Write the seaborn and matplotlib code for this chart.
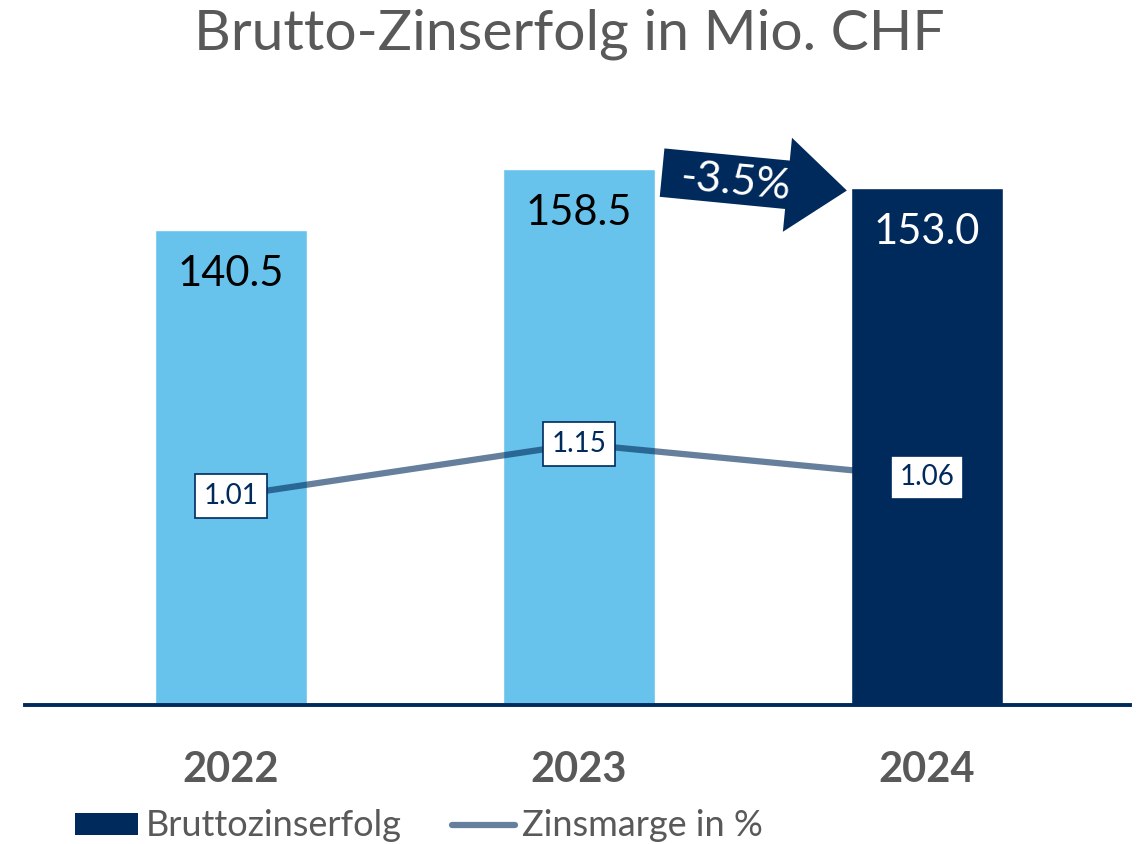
import numpy as np
import matplotlib
matplotlib.use("Agg")
import matplotlib.pyplot as plt
from matplotlib.patches import Patch
from matplotlib.lines import Line2D
import seaborn as sns

# data
years = ["2022", "2023", "2024"]
zinserfolg = [140.5, 158.5, 153.0]
zinsmarge = [1.01, 1.15, 1.06]

navy = "#002A5C"
light = "#67C3EC"
grey = "#595959"

sns.set_style("white")
plt.rcParams["font.family"] = ["Lato", "DejaVu Sans"]

fig = plt.figure(figsize=(11.38, 8.44), dpi=100)
ax = fig.add_axes([25/1138, 139/844, 1105/1138, 575/844])

bw = 0.437
sns.barplot(x=years, y=zinserfolg, hue=years, palette=[light, light, navy],
            width=bw, legend=False, saturation=1, ax=ax)
ax.set_xlim(-0.592, 2.583)
ax.set_ylim(0, 170)
ax.set_xlabel("")
ax.set_ylabel("")
ax.set_yticks([])
for s in ["top", "left", "right"]:
    ax.spines[s].set_visible(False)
ax.spines["bottom"].set_color(navy)
ax.spines["bottom"].set_linewidth(2.8)
ax.tick_params(axis="x", length=0, pad=33, labelsize=30, labelcolor=grey)
for lab in ax.get_xticklabels():
    lab.set_fontweight("bold")

# values inside the bars
txt_cols = ["black", "black", "white"]
for i, v in enumerate(zinserfolg):
    ax.annotate(f"{v:.1f}", xy=(i, v), xytext=(0, -32), textcoords="offset points",
                ha="center", va="center", fontsize=30, color=txt_cols[i])

# margin line on secondary axis
ax2 = ax.twinx()
sns.lineplot(x=np.arange(len(years)), y=zinsmarge, color=navy, alpha=0.6,
             linewidth=4.5, ax=ax2, legend=False)
ax2.set_ylim(0.447, 1.996)
ax2.set_yticks([])
ax2.set_ylabel("")
for s in ax2.spines.values():
    s.set_visible(False)
for i, m in enumerate(zinsmarge):
    ax2.annotate(f"{m:.2f}", xy=(i, m), ha="center", va="center", fontsize=20,
                 color=navy, zorder=5,
                 bbox=dict(boxstyle="square,pad=0.32", fc="white", ec=navy, lw=1.2))

# change arrow 2023 -> 2024
chg = (zinserfolg[2] - zinserfolg[1]) / zinserfolg[1] * 100
tail = (1 + bw / 2 + 0.02, zinserfolg[1] - 1.1)
tip = (2 - bw / 2 - 0.012, zinserfolg[2] - 0.9)
ax.annotate("", xy=tip, xytext=tail, zorder=6,
            arrowprops=dict(arrowstyle="simple,head_length=0.43,head_width=0.68,tail_width=0.35",
                            mutation_scale=100, fc=navy, ec="none", shrinkA=0, shrinkB=0))
ax.text(1.45, 154.6, f"{chg:.1f}%", ha="center", va="center", fontsize=31,
        color="white", rotation=-5.5, zorder=7)

fig.suptitle("Brutto-Zinserfolg in Mio. CHF", fontsize=41, color=grey, y=0.99)

handles = [Patch(facecolor=navy, edgecolor="none"),
           Line2D([0], [0], color=navy, alpha=0.6, lw=4.5)]
fig.legend(handles, ["Bruttozinserfolg", "Zinsmarge in %"], loc="center left",
           bbox_to_anchor=(75/1138, 1 - 826/844), ncol=2, frameon=False,
           fontsize=26, labelcolor=grey, handlelength=1.75, handleheight=0.55,
           handletextpad=0.2, columnspacing=1.4, borderpad=0, borderaxespad=0)

fig.savefig("out.png", dpi=100)
